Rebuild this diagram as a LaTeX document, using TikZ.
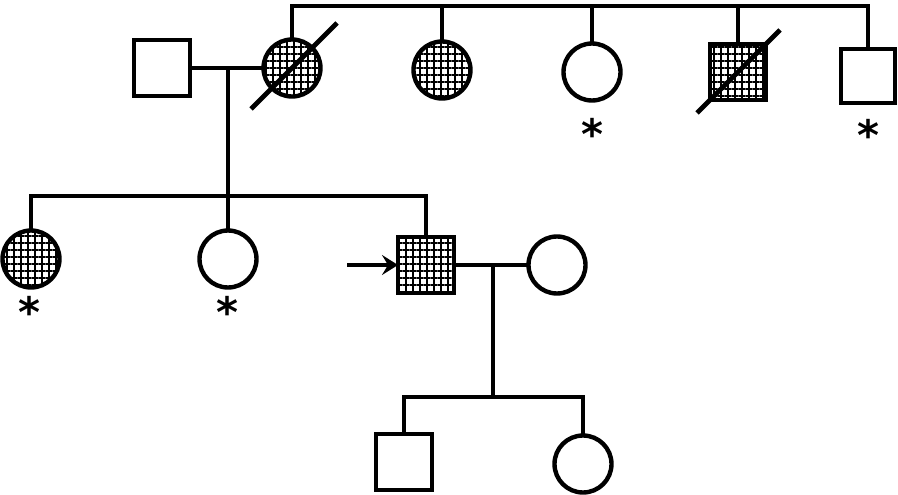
\documentclass[tikz,border=0pt]{standalone}
\usepackage{fontspec}
\newfontfamily\starfont{DejaVu Sans}
\usetikzlibrary{patterns.meta,arrows.meta}
\begin{document}
\begin{tikzpicture}[x=1pt,y=-1pt,
  base/.style={draw=black,line width=4.4pt,inner sep=0pt,outer sep=0pt,fill=white},
  sq/.style={base,rectangle,minimum size=56pt},
  ci/.style={base,circle,minimum size=57pt},
  aff/.style={preaction={fill=white},preaction={pattern={Lines[angle=0,distance=7pt,line width=2.4pt]}},pattern={Lines[angle=90,distance=7pt,line width=2.4pt]}},
  link/.style={line width=4pt},
  slash/.style={line width=4.8pt},
  star/.style={inner sep=0pt,font=\starfont\fontsize{42}{42}\selectfont\bfseries}]
\useasboundingbox (0,0) rectangle (898,495);
% generation I/II
\node[sq] (s1) at (162,68) {};
\node[ci,aff] (c2) at (292,68) {};
\node[ci,aff] (c3) at (442,70) {};
\node[ci] (c4) at (592,72) {};
\node[sq,aff] (s5) at (738,72) {};
\node[sq,minimum size=54pt] (s6) at (868,76) {};
\coordinate (topline) at (0,6);
\coordinate (m1) at (228,68);
\draw[link] (c2.north) -- (c2.north |- topline) -| (s6.north);
\draw[link] (c3.north) -- (c3.north |- topline);
\draw[link] (c4.north) -- (c4.north |- topline);
\draw[link] (s5.north) -- (s5.north |- topline);
\draw[link] (s1.east) -- (c2.west);
\draw[slash] ([shift={(-41,41)}]c2.center) -- ([shift={(45,-45)}]c2.center);
\draw[slash] ([shift={(-41,41)}]s5.center) -- ([shift={(42,-42)}]s5.center);
\node[star] (a4) at (592,134) {*};
\node[star] (a6) at (868,135) {*};
% generation III
\node[ci,aff] (c7) at (31,259) {};
\node[ci] (c8) at (228,259) {};
\node[sq,aff] (s9) at (426,265) {};
\node[ci] (c10) at (557,265) {};
\coordinate (sib2) at (0,196);
\coordinate (m2) at (493,265);
\draw[link] (m1) -- (m1 |- sib2);
\draw[link] (c7.north) -- (c7.north |- sib2) -| (s9.north);
\draw[link] (c8.north) -- (c8.north |- sib2);
\draw[link] (s9.east) -- (c10.west);
\node[star] (a7) at (29,312) {*};
\node[star] (a8) at (227,312) {*};
\coordinate (arr) at (347,265);
\draw[line width=3.4pt,-{Stealth[length=16pt,width=20pt,inset=6pt]}] (arr) -- (s9.west);
% generation IV
\node[sq] (s11) at (404,462) {};
\node[ci] (c12) at (583,464) {};
\coordinate (sib3) at (0,397);
\draw[link] (m2) -- (m2 |- sib3);
\draw[link] (s11.north) -- (s11.north |- sib3) -| (c12.north);
\end{tikzpicture}
\end{document}
